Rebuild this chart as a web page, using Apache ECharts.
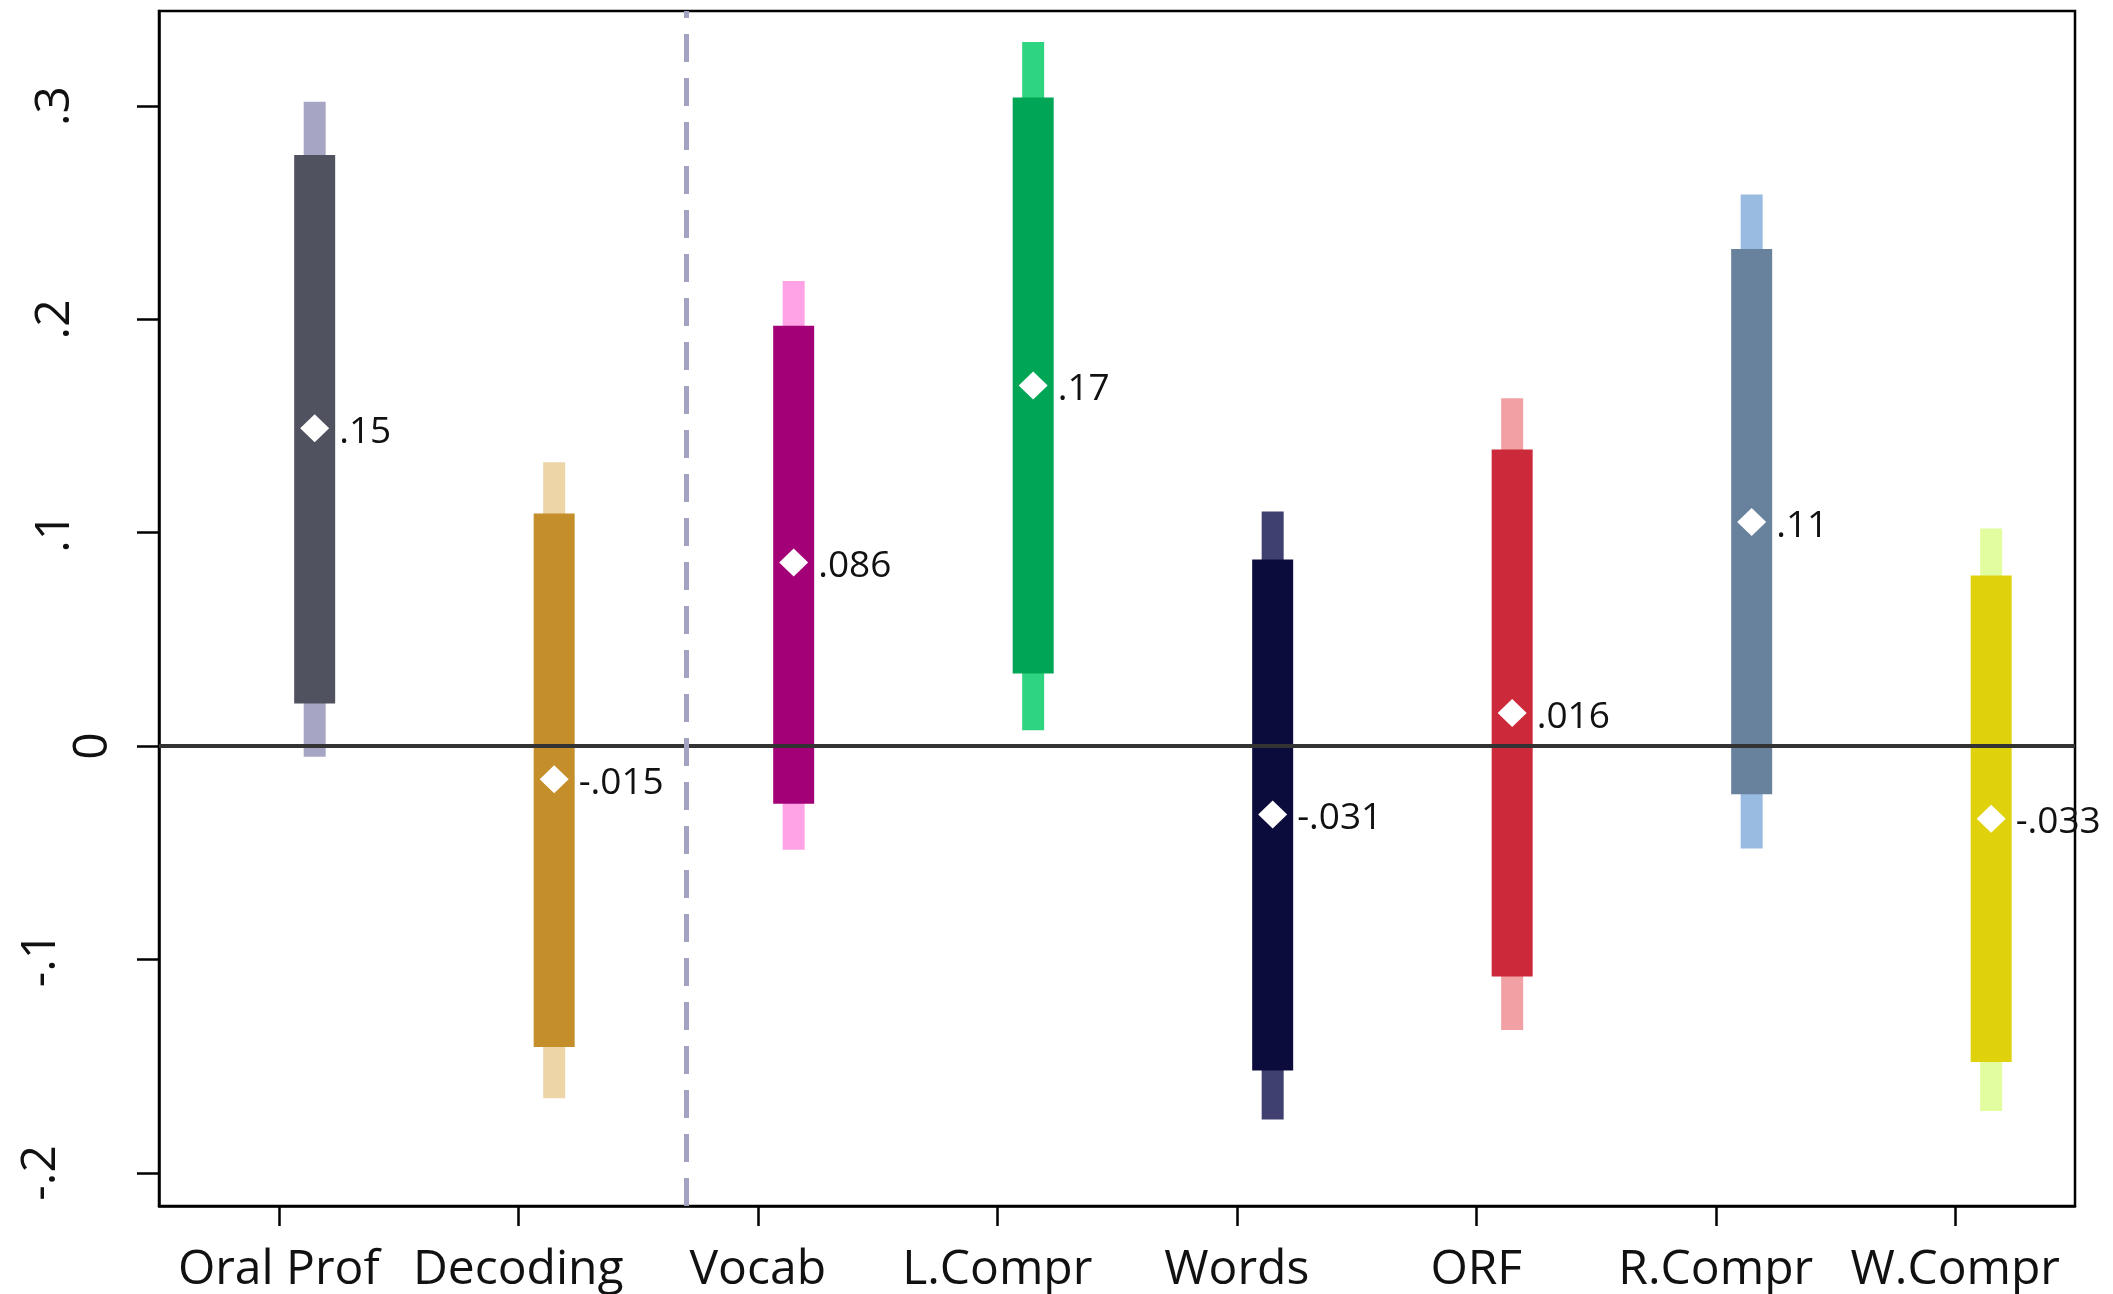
<!DOCTYPE html>
<html>
<head>
<meta charset="utf-8">
<script src="https://cdn.jsdelivr.net/npm/echarts@6/dist/echarts.min.js"></script>
<style>
  html, body { margin: 0; padding: 0; background: #fff; }
  #chart { width: 2113px; height: 1294px; }
</style>
</head>
<body>
<div id="chart"></div>
<script>
// ---- data ----
const categories = ['Oral Prof', 'Decoding', 'Vocab', 'L.Compr', 'Words', 'ORF', 'R.Compr', 'W.Compr'];
const pointValues = [0.149, -0.0155, 0.086, 0.169, -0.032, 0.0155, 0.105, -0.034];
const pointLabels = ['.15', '-.015', '.086', '.17', '-.031', '.016', '.11', '-.033'];
const innerLow  = [0.020, -0.141, -0.027, 0.034, -0.152, -0.108, -0.0225, -0.148];
const innerHigh = [0.277, 0.109, 0.197, 0.304, 0.0875, 0.139, 0.233, 0.080];
const outerLow  = [-0.005, -0.165, -0.0485, 0.0075, -0.175, -0.133, -0.048, -0.171];
const outerHigh = [0.302, 0.133, 0.218, 0.330, 0.110, 0.163, 0.2585, 0.102];
const yTickValues = [-0.2, -0.1, 0, 0.1, 0.2, 0.3];
const yTickLabels = ['-.2', '-.1', '0', '.1', '.2', '.3'];

// ---- styles ----
const innerColors = ['#50525F', '#C48E2A', '#A30077', '#00A555', '#0C0C3C', '#CC2A3A', '#68829E', '#E0D10D'];
const outerColors = ['#A6A6C4', '#EDD5A8', '#FFA3E6', '#2ED47F', '#404070', '#F1A0A3', '#99BBE2', '#E2FDA0'];
const barOffset = 0.15;      // marks sit right of the category tick
const separatorPos = 2.2;    // dashed separator between Decoding and Vocab (mark axis units)
const FONT = '"Open Sans", "Noto Sans", sans-serif';

function rangeSeries(name, low, high, colors, widthPx, z) {
  return {
    name: name,
    type: 'custom',
    xAxisIndex: 1,
    z: z,
    data: categories.map((c, i) => [i + 0.5 + barOffset, low[i], high[i], i]),
    encode: { x: 0, y: [1, 2] },
    renderItem: function (params, api) {
      const x = api.value(0);
      const top = api.coord([x, api.value(2)]);
      const bot = api.coord([x, api.value(1)]);
      const idx = api.value(3);
      return {
        type: 'rect',
        shape: { x: top[0] - widthPx / 2, y: top[1], width: widthPx, height: bot[1] - top[1] },
        style: { fill: colors[idx] }
      };
    }
  };
}

// rotated y labels: Stata centres them, so longer labels sit further from the axis
function yLabelStyle(lbl) {
  if (lbl === '0') return 'z';
  if (lbl.charAt(0) === '-') return 'n';
  return 'p';
}

const chart = echarts.init(document.getElementById('chart'), null, { renderer: 'canvas' });
chart.setOption({
  animation: false,
  backgroundColor: '#ffffff',
  grid: { left: 159, right: 38, top: 11, bottom: 88, show: true, borderColor: '#000', borderWidth: 2.5, backgroundColor: 'transparent' },
  xAxis: [
    {
      type: 'category',
      data: categories,
      boundaryGap: true,
      axisLine: { show: true, onZero: false, lineStyle: { color: '#000', width: 2.5 } },
      axisTick: { show: true, alignWithLabel: true, length: 20, lineStyle: { color: '#000', width: 2.5 } },
      axisLabel: { fontSize: 48, color: '#111', margin: 40, fontFamily: FONT, interval: 0 },
      splitLine: { show: false }
    },
    {
      type: 'value', min: 0, max: 8, show: false
    }
  ],
  yAxis: {
    type: 'value',
    min: -0.2155,
    max: 0.3445,
    axisLine: { show: true, onZero: false, lineStyle: { color: '#000', width: 2.5 } },
    axisTick: { show: true, length: 22, customValues: yTickValues, lineStyle: { color: '#000', width: 2.5 } },
    axisLabel: {
      show: true,
      customValues: yTickValues,
      rotate: 90,
      margin: 42,
      fontSize: 48,
      color: '#111',
      fontFamily: FONT,
      rich: {
        z: { fontSize: 48, fontFamily: FONT, color: '#111', padding: [0, 0, 0, 0] },
        p: { fontSize: 48, fontFamily: FONT, color: '#111', padding: [0, 0, 38, 0] },
        n: { fontSize: 48, fontFamily: FONT, color: '#111', padding: [0, 0, 52, 0] }
      },
      formatter: function (v) {
        for (let i = 0; i < yTickValues.length; i++) {
          if (Math.abs(yTickValues[i] - v) < 1e-9) {
            const l = yTickLabels[i];
            return '{' + yLabelStyle(l) + '|' + l + '}';
          }
        }
        return '';
      }
    },
    splitLine: { show: false }
  },
  series: [
    {
      type: 'line',
      xAxisIndex: 1,
      data: [],
      z: 1,
      markLine: {
        silent: true,
        symbol: 'none',
        label: { show: false },
        data: [
          { yAxis: 0, lineStyle: { color: '#333', width: 4, type: 'solid', opacity: 1 } },
          { xAxis: separatorPos, lineStyle: { color: '#A2A2C2', width: 5, type: [28, 16], opacity: 1 } }
        ]
      }
    },
    rangeSeries('outer', outerLow, outerHigh, outerColors, 22, 2),
    rangeSeries('inner', innerLow, innerHigh, innerColors, 41, 3),
    {
      type: 'scatter',
      xAxisIndex: 1,
      z: 5,
      symbol: 'diamond',
      symbolSize: [29, 28],
      itemStyle: { color: '#fff', opacity: 1 },
      data: categories.map((c, i) => [i + 0.5 + barOffset, pointValues[i], i]),
      label: {
        show: true,
        position: 'right',
        distance: 10,
        offset: [0, 4],
        fontSize: 37,
        color: '#111',
        fontFamily: FONT,
        formatter: function (p) { return pointLabels[p.data[2]]; }
      }
    }
  ]
});
</script>
</body>
</html>
